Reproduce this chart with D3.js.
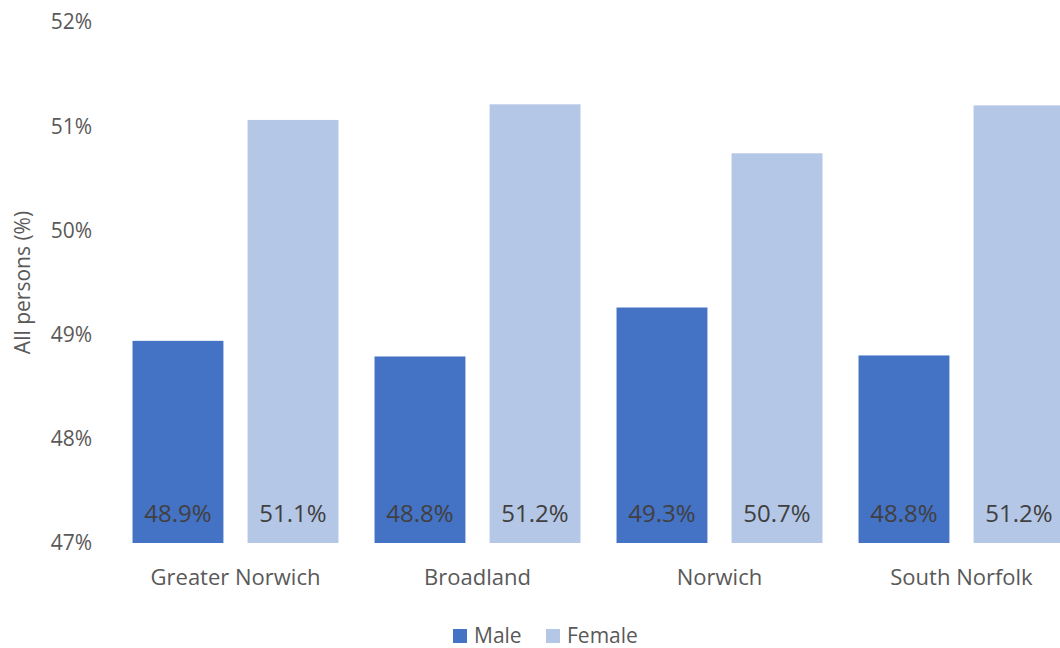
<!DOCTYPE html>
<html>
<head>
<meta charset="utf-8">
<script src="https://cdn.jsdelivr.net/npm/d3@7"></script>
<style>
  body { margin: 0; background: #fff; overflow: hidden; }
  text { font-family: "Open Sans", "Liberation Sans", sans-serif; }
</style>
</head>
<body>
<svg id="chart"></svg>
<script>
const width = 1060;
const height = 648;

// data
const areas = ["Greater Norwich", "Broadland", "Norwich", "South Norfolk"];
const series = ["Male", "Female"];
const male = [48.94, 48.79, 49.26, 48.8];
const female = [51.06, 51.21, 50.74, 51.2];
const yTicks = [47, 48, 49, 50, 51, 52];
const colors = ["#4472C4", "#B4C7E7"];

const rows = areas.map((a, i) => ({ area: a, values: [male[i], female[i]] }));

const svg = d3.select("#chart")
    .attr("width", width)
    .attr("height", height);

const x = d3.scaleBand()
    .domain(areas)
    .range([114.5, 1082.5])
    .paddingInner(0.149)
    .paddingOuter(0.0745);

const xSub = d3.scaleBand()
    .domain(series)
    .range([0, x.bandwidth()])
    .paddingInner(0.21);

const y = d3.scaleLinear()
    .domain([47, 52])
    .range([543, 22]);

// y axis labels
svg.append("g")
    .selectAll("text")
    .data(yTicks)
    .join("text")
    .attr("x", 92)
    .attr("y", d => y(d))
    .attr("dy", "0.35em")
    .attr("text-anchor", "end")
    .attr("fill", "#595959")
    .style("font-size", "21px")
    .text(d => d + "%");

svg.append("text")
    .attr("transform", `translate(30, ${y(49.5)}) rotate(-90)`)
    .attr("text-anchor", "middle")
    .attr("fill", "#595959")
    .style("font-size", "21px")
    .text("All persons (%)");

// bars
const group = svg.append("g")
    .selectAll("g")
    .data(rows)
    .join("g")
    .attr("transform", d => `translate(${x(d.area)},0)`);

group.selectAll("rect")
    .data(d => d.values.map((v, i) => ({ key: series[i], value: v, color: colors[i] })))
    .join("rect")
    .attr("x", d => xSub(d.key))
    .attr("width", xSub.bandwidth())
    .attr("y", d => y(d.value))
    .attr("height", d => y(47) - y(d.value))
    .attr("fill", d => d.color);

group.selectAll("text.lbl")
    .data(d => d.values.map((v, i) => ({ key: series[i], value: v })))
    .join("text")
    .attr("class", "lbl")
    .attr("x", d => xSub(d.key) + xSub.bandwidth() / 2)
    .attr("y", 522)
    .attr("text-anchor", "middle")
    .attr("fill", "#404040")
    .style("font-size", "24px")
    .text(d => d.value.toFixed(1) + "%");

// category labels
svg.append("g")
    .selectAll("text")
    .data(areas)
    .join("text")
    .attr("x", d => x(d) + x.bandwidth() / 2)
    .attr("y", 585)
    .attr("text-anchor", "middle")
    .attr("fill", "#595959")
    .style("font-size", "22px")
    .text(d => d);

// legend
const legendX = [453, 546];
const legend = svg.append("g")
    .selectAll("g")
    .data(series)
    .join("g")
    .attr("transform", (d, i) => `translate(${legendX[i]}, 629)`);

legend.append("rect")
    .attr("width", 14)
    .attr("height", 14)
    .attr("fill", (d, i) => colors[i]);

legend.append("text")
    .attr("x", 21)
    .attr("y", 7)
    .attr("dy", "0.35em")
    .attr("fill", "#595959")
    .style("font-size", "21px")
    .text(d => d);
</script>
</body>
</html>
